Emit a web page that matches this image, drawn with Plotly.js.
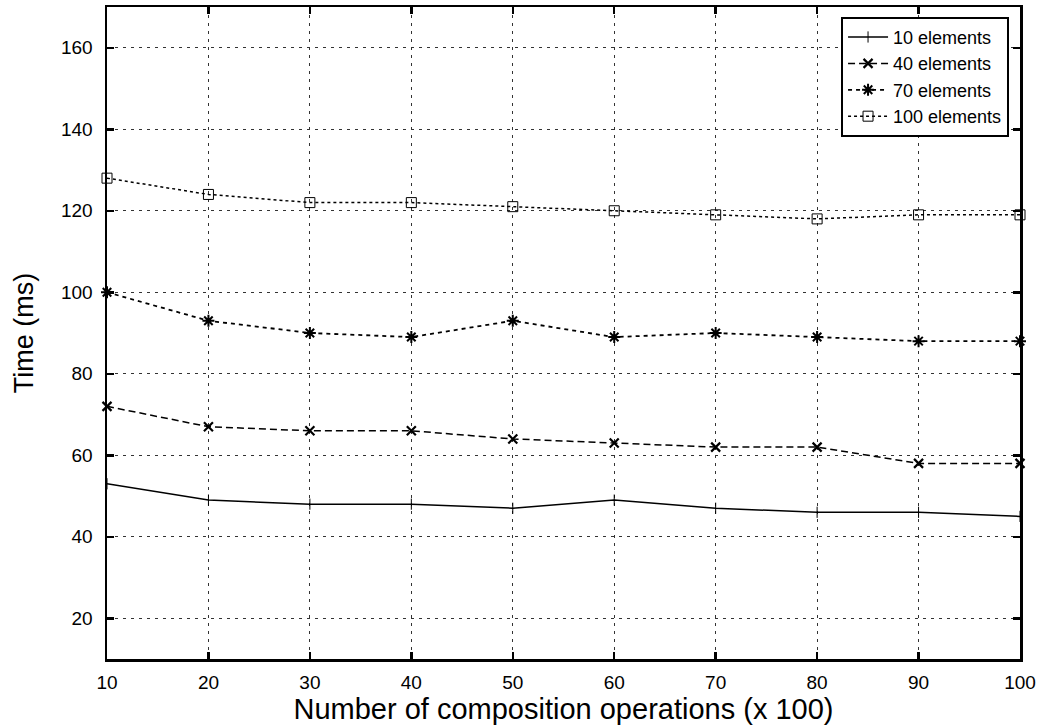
<!DOCTYPE html>
<html>
<head>
<meta charset="utf-8">
<script src="https://cdn.plot.ly/plotly-3.0.1.min.js"></script>
<style>html,body{margin:0;padding:0;background:#fff;}#chart{width:1041px;height:727px;}</style>
</head>
<body>
<div id="chart"></div>
<script>
const operations = [10, 20, 30, 40, 50, 60, 70, 80, 90, 100];
const seriesNames = ["10 elements", "40 elements", "70 elements", "100 elements"];
const time10 = [53, 49, 48, 48, 47, 49, 47, 46, 46, 45];
const time40 = [72, 67, 66, 66, 64, 63, 62, 62, 58, 58];
const time70 = [100, 93, 90, 89, 93, 89, 90, 89, 88, 88];
const time100 = [128, 124, 122, 122, 121, 120, 119, 118, 119, 119];
const xTicks = [10, 20, 30, 40, 50, 60, 70, 80, 90, 100];
const yTicks = [20, 40, 60, 80, 100, 120, 140, 160];

const FONT = '"Liberation Sans", Arial, Helvetica, sans-serif';

const traces = [
  {x: operations, y: time10, name: seriesNames[0], mode: 'lines+markers',
   line: {color: '#000', width: 1.5, dash: 'solid'},
   marker: {symbol: 'line-ns-open', size: 8, color: '#000', line: {color: '#000', width: 1}}, cliponaxis: false},
  {x: operations, y: time40, name: seriesNames[1], mode: 'lines+markers',
   line: {color: '#000', width: 1.5, dash: '7px,4px'},
   marker: {symbol: 'x-thin-open', size: 9, color: '#000', line: {color: '#000', width: 2.2}}, cliponaxis: false},
  {x: operations, y: time70, name: seriesNames[2], mode: 'lines+markers',
   line: {color: '#000', width: 1.8, dash: '4px,4px'},
   marker: {symbol: 'asterisk-open', size: 10, color: '#000', line: {color: '#000', width: 2}}, cliponaxis: false},
  {x: operations, y: time100, name: seriesNames[3], mode: 'lines+markers',
   line: {color: '#000', width: 1.5, dash: 'dot'},
   marker: {symbol: 'square-open', size: 10, color: '#000', line: {color: '#000', width: 1}}, cliponaxis: false}
];

const axisCommon = {
  showline: true, linecolor: '#000', linewidth: 2.5, mirror: 'ticks',
  ticks: 'inside', ticklen: 7, tickwidth: 2.5, tickcolor: '#000',
  showgrid: true, gridcolor: '#333', gridwidth: 1, griddash: '3px,5px',
  zeroline: false,
  tickfont: {family: FONT, size: 19, color: '#000'}
};

const layout = {
  width: 1041, height: 727,
  margin: {l: 107, r: 21, t: 7, b: 68},
  paper_bgcolor: '#fff', plot_bgcolor: '#fff',
  font: {family: FONT, color: '#000'},
  showlegend: true,
  legend: {
    x: 0.988, xanchor: 'right', y: 0.985, yanchor: 'top',
    bgcolor: '#fff', bordercolor: '#000', borderwidth: 2,
    font: {family: FONT, size: 18, color: '#000'},
    tracegroupgap: 0, itemwidth: 40
  },
  xaxis: Object.assign({}, axisCommon, {
    range: [10, 100], tickvals: xTicks, ticktext: xTicks.map(String),
    ticklabelstandoff: 5,
    title: {text: 'Number of composition operations (x 100)', font: {family: FONT, size: 29, color: '#000'}, standoff: 0}
  }),
  yaxis: Object.assign({}, axisCommon, {
    range: [10, 170], tickvals: yTicks, ticktext: yTicks.map(String),
    ticklabelstandoff: 8,
    title: {text: 'Time (ms)', font: {family: FONT, size: 27, color: '#000'}, standoff: 20}
  })
};

Plotly.newPlot('chart', traces, layout, {staticPlot: true, displayModeBar: false});
</script>
</body>
</html>
